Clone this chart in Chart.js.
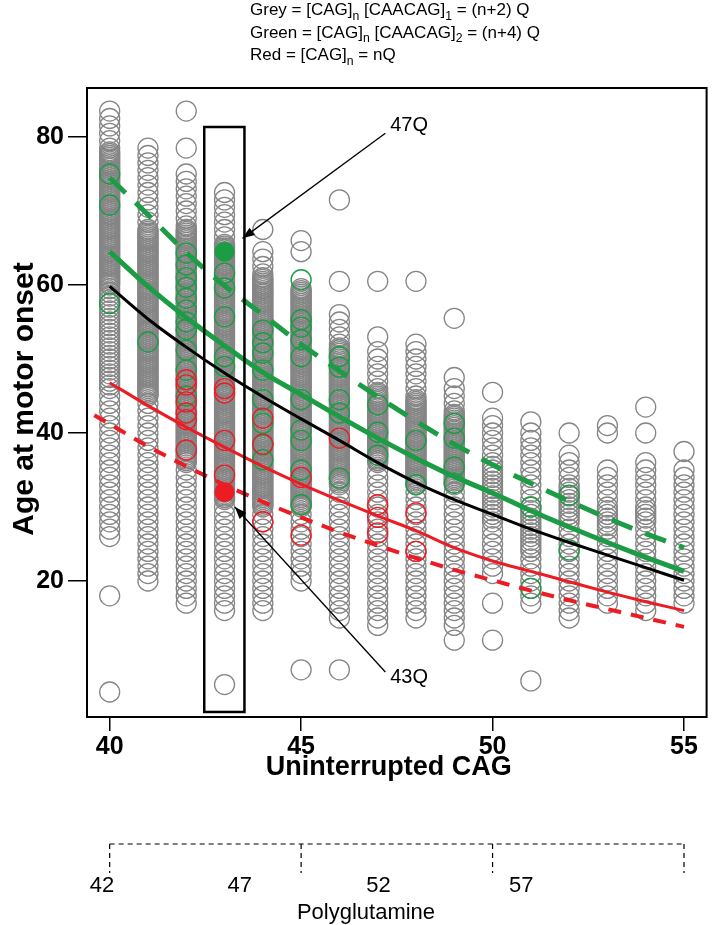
<!DOCTYPE html>
<html><head><meta charset="utf-8">
<script src="https://cdn.jsdelivr.net/npm/chart.js@4.4.1/dist/chart.umd.min.js"></script>
<style>html,body{margin:0;padding:0;background:#fff;}canvas{display:block;}</style>
</head><body>
<canvas id="c" width="718" height="925"></canvas>
<script>
// ---------------- DATA ----------------
const cagRepeats = [40,41,42,43,44,45,46,47,48,49,50,51,52,53,54,55];
const xTickValues = [40,45,50,55];
const yTickValues = [20,40,60,80];

// grey circles: age at motor onset for each uninterrupted CAG length (dense bands read as closely spaced ages)
const ages40 = [83.5,82.5,81.5,80.5,79.5,78.5,
78,77.75,77.5,77.25,77,76.75,76.5,76.25,76,75.75,75.5,75.25,75,74.75,74.5,74.25,74,73.75,73.5,73.25,73,72.75,72.5,72.25,72,71.75,71.5,71.25,71,70.75,70.5,70.25,70,69.75,69.5,69.25,69,68.75,68.5,68.25,68,67.75,67.5,67.25,67,66.75,66.5,66.25,66,65.75,65.5,65.25,65,64.75,64.5,64.25,64,63.75,63.5,63.25,63,62.75,62.5,62.25,62,61.75,61.5,61.25,61,60.75,60.5,60.25,60,
59.5,59,58.5,58,57.5,57,56.5,56,55.5,55,54.5,54,53.5,53,52.5,52,51.5,51,50.5,50,49.5,49,48.5,48,47.5,47,46.5,46,
45,44,43,42,41,40,39,38,37,36,35,34,33,32,31,30,29,28,27,26,18,5];
const ages41 = [78.5,77.5,76.5,75.5,74.5,73.5,72.5,71.5,70.5,69.5,68.5,
67.5,67.25,67,66.75,66.5,66.25,66,65.75,65.5,65.25,65,64.75,64.5,64.25,64,63.75,63.5,63.25,63,62.75,62.5,62.25,62,61.75,61.5,61.25,61,60.75,60.5,60.25,60,59.75,59.5,59.25,59,58.75,58.5,58.25,58,57.75,57.5,57.25,57,56.75,56.5,56.25,56,55.75,55.5,55.25,55,54.75,54.5,54.25,54,53.75,53.5,53.25,53,52.75,52.5,52.25,52,51.75,51.5,51.25,51,50.75,50.5,50.25,50,49.75,49.5,49.25,49,48.75,48.5,48.25,48,47.75,47.5,47.25,47,46.75,46.5,46.25,46,45.75,45.5,45.25,45,
44,43,42,41,40,39,38,37,36,35,34,33,32,31,30,29,28,27,26,25,24,23,22,21,20];
const ages42 = [83.5,78.5,75,74,73,72,71,70,69,68,
67.5,67.25,67,66.75,66.5,66.25,66,65.75,65.5,65.25,65,64.75,64.5,64.25,64,63.75,63.5,63.25,63,62.75,62.5,62.25,62,61.75,61.5,61.25,61,60.75,60.5,60.25,60,59.75,59.5,59.25,59,58.75,58.5,58.25,58,57.75,57.5,57.25,57,56.75,56.5,56.25,56,55.75,55.5,55.25,55,54.75,54.5,54.25,54,53.75,53.5,53.25,53,52.75,52.5,52.25,52,51.75,51.5,51.25,51,50.75,50.5,50.25,50,49.75,49.5,49.25,49,48.75,48.5,48.25,48,47.75,47.5,47.25,47,46.75,46.5,46.25,46,45.75,45.5,45.25,45,44.75,44.5,44.25,44,43.75,43.5,43.25,43,42.75,42.5,42.25,42,41.75,41.5,41.25,41,40.75,40.5,40.25,40,39.75,39.5,39.25,39,38.75,38.5,38.25,38,37.75,37.5,37.25,37,36.75,36.5,36.25,36,
35,34,33,32,31,30,29,28,27,26,25,24,23,22,21,20,19,18,17];
const ages43 = [72.5,71.5,70.5,69.5,68.5,67.5,66.5,
65.5,65.25,65,64.75,64.5,64.25,64,63.75,63.5,63.25,63,62.75,62.5,62.25,62,61.75,61.5,61.25,61,60.75,60.5,60.25,60,59.75,59.5,59.25,59,58.75,58.5,58.25,58,57.75,57.5,57.25,57,56.75,56.5,56.25,56,55.75,55.5,55.25,55,54.75,54.5,54.25,54,53.75,53.5,53.25,53,52.75,52.5,52.25,52,51.75,51.5,51.25,51,50.75,50.5,50.25,50,49.75,49.5,49.25,49,48.75,48.5,48.25,48,47.75,47.5,47.25,47,46.75,46.5,46.25,46,45.75,45.5,45.25,45,44.75,44.5,44.25,44,43.75,43.5,43.25,43,42.75,42.5,42.25,42,41.75,41.5,41.25,41,40.75,40.5,40.25,40,39.75,39.5,39.25,39,38.75,38.5,38.25,38,37.75,37.5,37.25,37,36.75,36.5,36.25,36,35.75,35.5,35.25,35,34.75,34.5,34.25,34,33.75,33.5,33.25,33,32.75,32.5,32.25,32,31.75,31.5,31.25,31,
30,29,28,27,26,25,24,23,22,21,20,19,18,17,16,6];
const ages44 = [67.5,64.5,63.5,62.5,61.5,
61,60.75,60.5,60.25,60,59.75,59.5,59.25,59,58.75,58.5,58.25,58,57.75,57.5,57.25,57,56.75,56.5,56.25,56,55.75,55.5,55.25,55,54.75,54.5,54.25,54,53.75,53.5,53.25,53,52.75,52.5,52.25,52,51.75,51.5,51.25,51,50.75,50.5,50.25,50,49.75,49.5,49.25,49,48.75,48.5,48.25,48,47.75,47.5,47.25,47,46.75,46.5,46.25,46,45.75,45.5,45.25,45,44.75,44.5,44.25,44,43.75,43.5,43.25,43,42.75,42.5,42.25,42,41.75,41.5,41.25,41,40.75,40.5,40.25,40,39.75,39.5,39.25,39,38.75,38.5,38.25,38,37.75,37.5,37.25,37,36.75,36.5,36.25,36,35.75,35.5,35.25,35,34.75,34.5,34.25,34,33.75,33.5,33.25,33,32.75,32.5,32.25,32,31.75,31.5,31.25,31,30.75,30.5,30.25,30,
29,28,27,26,25,24,23,22,21,20,19,18,17,16];
const ages45 = [66,64.5,
59.5,59.25,59,58.75,58.5,58.25,58,57.75,57.5,57.25,57,56.75,56.5,56.25,56,55.75,55.5,55.25,55,54.75,54.5,54.25,54,53.75,53.5,53.25,53,52.75,52.5,52.25,52,51.75,51.5,51.25,51,50.75,50.5,50.25,50,49.75,49.5,49.25,49,48.75,48.5,48.25,48,47.75,47.5,47.25,47,46.75,46.5,46.25,46,45.75,45.5,45.25,45,44.75,44.5,44.25,44,43.75,43.5,43.25,43,42.75,42.5,42.25,42,41.75,41.5,41.25,41,40.75,40.5,40.25,40,39.75,39.5,39.25,39,38.75,38.5,38.25,38,37.75,37.5,37.25,37,36.75,36.5,36.25,36,35.75,35.5,35.25,35,34.75,34.5,34.25,34,33.75,33.5,33.25,33,32.75,32.5,32.25,32,31.75,31.5,31.25,31,30.75,30.5,30.25,30,
29,28,27,26,25,24,23,22,21,20,8];
const ages46 = [71.5,60.5,56,55,54,53,52,
51.5,51.25,51,50.75,50.5,50.25,50,49.75,49.5,49.25,49,48.75,48.5,48.25,48,47.75,47.5,47.25,47,46.75,46.5,46.25,46,45.75,45.5,45.25,45,44.75,44.5,44.25,44,43.75,43.5,43.25,43,42.75,42.5,42.25,42,41.75,41.5,41.25,41,40.75,40.5,40.25,40,39.75,39.5,39.25,39,38.75,38.5,38.25,38,37.75,37.5,37.25,37,36.75,36.5,36.25,36,35.75,35.5,35.25,35,34.75,34.5,34.25,34,33.75,33.5,33.25,33,
32,31,30,29,28,27,26,25,24,23,22,21,20,19,18,17,16,15,8];
const ages47 = [60.5,53,51,50,49,48,47,46,
45.5,45.25,45,44.75,44.5,44.25,44,43.75,43.5,43.25,43,42.75,42.5,42.25,42,41.75,41.5,41.25,41,40.75,40.5,40.25,40,39.75,39.5,39.25,39,38.75,38.5,38.25,38,37.75,37.5,37.25,37,36.75,36.5,36.25,36,
35,34,33,32,31,30,29,28,27,26,25,24,23,22,21,20,19,18,17,16,15,14];
const ages48 = [60.5,52,51,50,49,48,47,46,45,
44.5,44.25,44,43.75,43.5,43.25,43,42.75,42.5,42.25,42,41.75,41.5,41.25,41,40.75,40.5,40.25,40,39.75,39.5,39.25,39,38.75,38.5,38.25,38,37.75,37.5,37.25,37,36.75,36.5,36.25,36,35.75,35.5,35.25,35,34.75,34.5,34.25,34,33.75,33.5,33.25,33,
32,31,30,29,28,27,26,25,24,23,22,21,20,19,18,17,16,15];
const ages49 = [55.5,47.5,46,45,44,43,
42.5,42.25,42,41.75,41.5,41.25,41,40.75,40.5,40.25,40,39.75,39.5,39.25,39,38.75,38.5,38.25,38,37.75,37.5,37.25,37,36.75,36.5,36.25,36,35.75,35.5,35.25,35,34.75,34.5,34.25,34,33.75,33.5,33.25,33,
32,31,30,29,28,27,26,25,24,23,22,21,20,19,18,17,16,15,14,12];
const ages50 = [45.5,42,41,40,39,38,37,36,35.5,35,34.5,34,33.5,33,32.5,32,31.5,31,30.5,30,29.5,29,28.5,28,27,26,25,24,23,22,21,17,12];
const ages51 = [41.5,40,39,38,37,36,35,34,33,32,31,30,29.5,29,28.5,28,27.5,27,26.5,26,25.5,25,24.5,24,23,22,21,20,19,18,17,6.5];
const ages52 = [40,37,36,35,34,33,32.5,32,31.5,31,30.5,30,29.5,29,28.5,28,27,26,25,24,23,22,21,20,19,18,17,16,15];
const ages53 = [41,40,35,34,33,32,31,30,29.5,29,28.5,28,27.5,27,26,25,24,23,22,21,20,19,18,17];
const ages54 = [43.5,40,36,35,34,33,32,31,30,29.5,29,28.5,28,27,26,25,24,23,22,21,20,19,18,17,16];
const ages55 = [37.5,35,34,33,32,31,30,29,28,27,26,25,24,23,22,21,20,19,18,17];
const greyAges = [ages40,ages41,ages42,ages43,ages44,ages45,ages46,ages47,ages48,ages49,ages50,ages51,ages52,ages53,ages54,ages55];

// green open circles
const greenCag = [40,40,40,41,42,42,42,42,42,42,42,42,42,42,42,43,43,43,43,43,44,44,44,44,44,44,44,44,45,45,45,45,45,45,45,45,45,45,46,46,46,46,46,47,47,47,48,48,49,49,49,49,51,51,52,52];
const greenAge = [75,70.8,57.5,52.3,64.3,62.7,61,59.7,58.2,56.6,55,54,51.2,48.5,45,61.6,59.6,55.7,50.3,49,53.9,52.2,50.8,48.5,44.5,41.3,38.4,36.4,60.7,55.3,54.3,52.6,50.3,44.5,40.4,39,35,30.3,50.3,48.9,44.5,42.7,33.9,43.8,40.1,37,39,33,41.3,39.3,35.4,33.2,30,19,31.6,24.2];
// red open circles
const redCag = [42,42,42,42,42,42,43,43,43,43,44,44,44,45,45,46,47,47,47,48,48];
const redAge = [47.2,46.5,44.2,42.7,41.8,37.7,46,45.4,39,34.3,42,38.5,28,34,26.2,39.3,30.3,28.6,26.5,29.2,24];
// highlighted individuals
const highlightCag = [43,43];
const highlightAge = [64.5,32];
const highlightLabels = ['47Q','43Q'];

// fitted curves
const fitBlack = [59.8,55.4,51.6,48.1,44.9,41.9,39.0,36.0,33.3,31.0,29.0,27.0,25.2,23.5,21.8,20.1];
const fitGreen = [64.5,59.8,55.6,51.8,48.2,45.2,42.2,39.3,36.6,34.1,31.9,29.5,27.3,25.2,23.2,21.3];
const fitGreenDashed = [74.5,69.5,64.4,59.9,56.0,52.0,48.4,44.9,41.6,38.5,35.7,33.2,30.8,28.5,26.4,24.5];
const fitRed = [46.8,43.7,40.8,38.1,35.5,33.1,30.9,28.8,26.8,24.5,22.7,21.3,19.9,18.5,17.2,16.0];
const redDashedCag = [39.6,40,41,42,43,44,45,46,47,48,49,50,51,52,53,54,55];
const fitRedDashed = [42.4,41.2,38.2,35.5,33.0,30.7,28.6,26.6,24.8,23.1,21.5,20.1,18.7,17.4,16.2,15.0,13.8];

// polyglutamine secondary axis
const polyQBracketCag = [40,45,50,55];
const polyQLabels = ['42','47','52','57'];

// ---------------- STYLE / LAYOUT ----------------
const FONT = "'Liberation Sans', Arial, Helvetica, sans-serif";
const GREY = '#858585', GREEN = '#1c9c45', RED = '#ec1c24';
const polyQLabelCag = [39.8, 43.4, 47.02, 50.75];

const pts = (xs, ys) => xs.map((x, i) => ({x: x, y: ys[i]}));
const greyData = [];
cagRepeats.forEach((c, i) => greyAges[i].forEach(a => greyData.push({x: c, y: a})));

function lineDs(xs, ys, color, width, dash, order) {
  return {type: 'scatter', data: pts(xs, ys), showLine: true, borderColor: color, borderWidth: width,
    borderDash: dash, pointRadius: 0, cubicInterpolationMode: 'monotone', fill: false, order: order, clip: 0};
}

function drawRich(ctx, parts, x, y, size) {
  let cx = x;
  parts.forEach(p => {
    const s = p.sub ? size * 0.72 : size;
    ctx.font = s + 'px ' + FONT;
    ctx.fillText(p.t, cx, p.sub ? y + size * 0.28 : y);
    cx += ctx.measureText(p.t).width;
  });
}
function arrow(ctx, x1, y1, x2, y2) {
  ctx.beginPath(); ctx.moveTo(x1, y1); ctx.lineTo(x2, y2); ctx.stroke();
  const ang = Math.atan2(y2 - y1, x2 - x1), L = 12, W = 4.5;
  ctx.beginPath();
  ctx.moveTo(x2, y2);
  ctx.lineTo(x2 - L * Math.cos(ang) + W * Math.sin(ang), y2 - L * Math.sin(ang) - W * Math.cos(ang));
  ctx.lineTo(x2 - L * Math.cos(ang) - W * Math.sin(ang), y2 - L * Math.sin(ang) + W * Math.cos(ang));
  ctx.closePath(); ctx.fill();
}

const extras = {
  id: 'extras',
  afterDraw(chart) {
    const {ctx, chartArea: a, scales: {x, y}} = chart;
    ctx.save();
    ctx.fillStyle = '#000'; ctx.strokeStyle = '#000';
    // plot frame
    ctx.lineWidth = 2;
    ctx.strokeRect(a.left, a.top, a.right - a.left, a.bottom - a.top);
    // highlight box around CAG 43
    ctx.lineWidth = 2.5;
    const bx1 = x.getPixelForValue(42.47), bx2 = x.getPixelForValue(43.52);
    const by1 = y.getPixelForValue(81.35), by2 = y.getPixelForValue(2.3);
    ctx.strokeRect(bx1, by1, bx2 - bx1, by2 - by1);
    // arrows & labels
    ctx.lineWidth = 1.3;
    arrow(ctx, x.getPixelForValue(47.2), y.getPixelForValue(80.5), x.getPixelForValue(43.47), y.getPixelForValue(66.3));
    arrow(ctx, x.getPixelForValue(47.2), y.getPixelForValue(7.7), x.getPixelForValue(43.27), y.getPixelForValue(30.0));
    ctx.font = '20px ' + FONT; ctx.textAlign = 'center'; ctx.textBaseline = 'middle';
    ctx.fillText(highlightLabels[0], x.getPixelForValue(47.82), y.getPixelForValue(81.6));
    ctx.fillText(highlightLabels[1], x.getPixelForValue(47.82), y.getPixelForValue(7.0));
    // axis titles
    ctx.font = 'bold 27px ' + FONT;
    ctx.fillText('Uninterrupted CAG', (a.left + a.right) / 2 - 8, 768);
    ctx.font = 'bold 30px ' + FONT;
    ctx.save(); ctx.translate(25, 399); ctx.rotate(-Math.PI / 2);
    ctx.fillText('Age at motor onset', 0, 0); ctx.restore();
    // header
    ctx.textAlign = 'left'; ctx.textBaseline = 'alphabetic';
    drawRich(ctx, [{t: 'Grey = [CAG]'}, {t: 'n', sub: 1}, {t: ' [CAACAG]'}, {t: '1', sub: 1}, {t: ' = (n+2) Q'}], 250, 15, 17);
    drawRich(ctx, [{t: 'Green = [CAG]'}, {t: 'n', sub: 1}, {t: ' [CAACAG]'}, {t: '2', sub: 1}, {t: ' = (n+4) Q'}], 250, 37.5, 17);
    drawRich(ctx, [{t: 'Red = [CAG]'}, {t: 'n', sub: 1}, {t: ' = nQ'}], 250, 60, 17);
    // polyglutamine bracket axis
    ctx.lineWidth = 1.2; ctx.setLineDash([5, 4]);
    const px = polyQBracketCag.map(v => x.getPixelForValue(v));
    ctx.beginPath(); ctx.moveTo(px[0], 844); ctx.lineTo(px[px.length - 1], 844); ctx.stroke();
    px.forEach(p => { ctx.beginPath(); ctx.moveTo(p, 844); ctx.lineTo(p, 873); ctx.stroke(); });
    ctx.setLineDash([]);
    ctx.font = '22px ' + FONT; ctx.textAlign = 'center'; ctx.textBaseline = 'middle';
    polyQLabels.forEach((t, i) => ctx.fillText(t, x.getPixelForValue(polyQLabelCag[i]), 886));
    ctx.fillText('Polyglutamine', 366, 913);
    ctx.restore();
  }
};

new Chart(document.getElementById('c').getContext('2d'), {
  type: 'scatter',
  data: {datasets: [
    {data: greyData, pointRadius: 10, pointBorderWidth: 1.3, pointBorderColor: GREY, pointBackgroundColor: 'rgba(0,0,0,0)', order: 20, clip: 0},
    {data: pts(greenCag, greenAge), pointRadius: 10, pointBorderWidth: 1.4, pointBorderColor: GREEN, pointBackgroundColor: 'rgba(0,0,0,0)', order: 19, clip: 0},
    {data: pts(redCag, redAge), pointRadius: 10, pointBorderWidth: 1.4, pointBorderColor: RED, pointBackgroundColor: 'rgba(0,0,0,0)', order: 18, clip: 0},
    lineDs(cagRepeats, fitGreenDashed, GREEN, 5, [22, 14], 6),
    lineDs(cagRepeats, fitGreen, GREEN, 5, [], 5),
    lineDs(cagRepeats, fitBlack, '#000', 3, [], 4),
    lineDs(redDashedCag, fitRedDashed, RED, 4, [13, 10], 3),
    lineDs(cagRepeats, fitRed, RED, 3, [], 2),
    {data: pts(highlightCag, highlightAge), pointRadius: 10, pointBorderWidth: 0,
     pointBackgroundColor: [GREEN, RED], order: 0, clip: 0}
  ]},
  options: {
    responsive: false, animation: false, devicePixelRatio: 1,
    layout: {padding: {top: 88, right: 2, left: 0, bottom: 0}},
    plugins: {legend: {display: false}, tooltip: {enabled: false}},
    scales: {
      x: {type: 'linear', min: 39.408, max: 55.59,
        border: {display: false},
        grid: {drawOnChartArea: false, drawTicks: true, tickLength: 14, color: '#000', lineWidth: 1.5},
        ticks: {font: {family: FONT, size: 25, weight: 'bold'}, color: '#000', padding: 1, maxRotation: 0, autoSkip: false},
        afterBuildTicks: s => { s.ticks = xTickValues.map(v => ({value: v})); },
        afterFit: s => { s.height = 208; }},
      y: {type: 'linear', min: 1.62, max: 86.62,
        border: {display: false},
        grid: {drawOnChartArea: false, drawTicks: true, tickLength: 19, color: '#000', lineWidth: 1.5},
        ticks: {font: {family: FONT, size: 25, weight: 'bold'}, color: '#000', padding: 4, autoSkip: false},
        afterBuildTicks: s => { s.ticks = yTickValues.map(v => ({value: v})); },
        afterFit: s => { s.width = 87; }}
    }
  },
  plugins: [extras]
});
</script>
</body></html>
